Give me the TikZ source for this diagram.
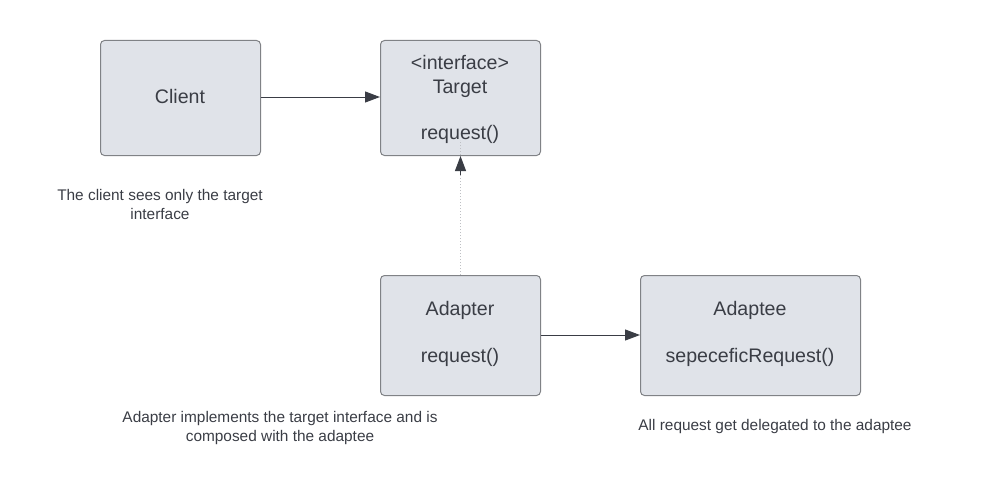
\documentclass[tikz,border=0pt]{standalone}
\usepackage{fontspec}
\setmainfont{Liberation Sans}
\usetikzlibrary{arrows.meta}
\usepackage{xcolor}
\definecolor{ColBox}{RGB}{224,227,233}
\definecolor{ColLine}{RGB}{128,130,134}
\definecolor{ColText}{RGB}{58,61,69}
\definecolor{ColDot}{RGB}{190,192,196}
\tikzstyle{ClassBox}=[draw=ColLine,fill=ColBox,rounded corners=4pt,line width=1pt,
text=ColText,font=\fontsize{19.6}{24}\selectfont,align=center,anchor=north west]
\tikzstyle{Note}=[text=ColText,font=\fontsize{15.4}{19}\selectfont,align=center]
\tikzstyle{Assoc}=[ColText,line width=1pt,-{Triangle[length=15pt,width=11pt]}]

\begin{document}
\begin{tikzpicture}[x=1pt,y=-1pt]
        \useasboundingbox(0,0)rectangle(990,503);
        \node[ClassBox,minimum width=160pt,minimum height=115pt](client)at(100,40){};
        \node[ClassBox,minimum width=160pt,minimum height=115pt](target)at(380,40){};
        \node[ClassBox,minimum width=160pt,minimum height=120pt](adapter)at(380,275){};
        \node[ClassBox,minimum width=220pt,minimum height=120pt](adaptee)at(640,275){};
        % class texts
        \node[ClassBox,draw=none,fill=none,anchor=center](clientname)at(180,96){Client};
        \node[ClassBox,draw=none,fill=none,anchor=center](targetname)at(460,76){{<}interface{>}\\Target};
        \node[ClassBox,draw=none,fill=none,anchor=center](targetop)at(460,134){request()};
        \node[ClassBox,draw=none,fill=none,anchor=center](adaptername)at(460,310){Adapter};
        \node[ClassBox,draw=none,fill=none,anchor=center](adapterop)at(460,357){request()};
        \node[ClassBox,draw=none,fill=none,anchor=center](adapteename)at(750,310){Adaptee};
        \node[ClassBox,draw=none,fill=none,anchor=center](adapteeop)at(750,357){sepeceficRequest()};
        % notes
        \node[Note](noteclient)at(160,204){The client sees only the target\\interface};
        \node[Note](noteadapter)at(280,428){Adapter implements the target interface and is\\composed with the adaptee};
        \node[Note](noteadaptee)at(775,427){All request get delegated to the adaptee};
        % connectors
        \draw[Assoc](client.east|-0,97)--(target.west|-0,97);
        \draw[Assoc](adapter.east|-0,335)--(adaptee.west|-0,335);
        \draw[ColDot,line width=1pt,dotted](adapter.north)--([yshift=16pt]target.south);
        \draw[Assoc,shorten <=100pt](adapter.north)--(target.south);
    \end{tikzpicture}
\end{document}
